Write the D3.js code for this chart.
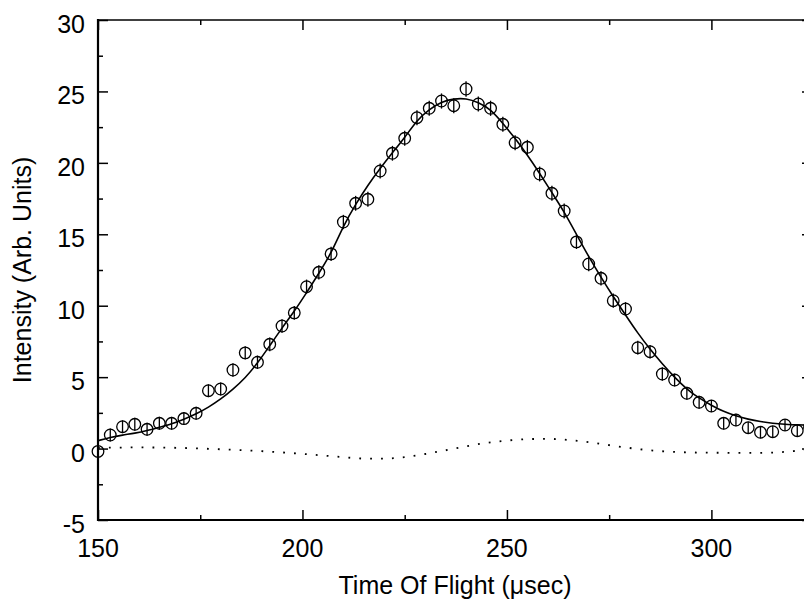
<!DOCTYPE html>
<html>
<head>
<meta charset="utf-8">
<script src="https://cdn.jsdelivr.net/npm/d3@7"></script>
<style>
    body { margin: 0; background: #fff; }
    svg { display: block; font-family: "Liberation Sans", Arial, Helvetica, sans-serif; }
</style>
</head>
<body>
<svg id="chart"></svg>
<script>
// measured points (time of flight in usec)
const times = [150, 153, 156, 159, 162, 165, 168, 171, 174, 177, 180, 183, 186, 189, 192, 195, 198, 201, 204, 207,
    210, 213, 216, 219, 222, 225, 228, 231, 234, 237, 240, 243, 246, 249, 252, 255, 258, 261, 264, 267,
    270, 273, 276, 279, 282, 285, 288, 291, 294, 297, 300, 303, 306, 309, 312, 315, 318, 321, 324];

const intensity = [-0.2, 0.95, 1.53, 1.7, 1.35, 1.77, 1.77, 2.1, 2.47, 4.05, 4.17, 5.5, 6.7, 6.04, 7.3, 8.58, 9.5, 11.33, 12.34, 13.63,
    15.86, 17.17, 17.45, 19.43, 20.67, 21.72, 23.16, 23.82, 24.33, 24.0, 25.17, 24.12, 23.82, 22.7, 21.41, 21.09, 19.22, 17.87, 16.63, 14.47,
    12.92, 11.92, 10.35, 9.77, 7.06, 6.78, 5.22, 4.8, 3.87, 3.24, 2.98, 1.77, 2.0, 1.46, 1.14, 1.18, 1.65, 1.25, 1.5];

const errors = [0, 0.45, 0.45, 0.45, 0.45, 0.45, 0.45, 0.45, 0.45, 0.45, 0.45, 0.47, 0.47, 0.47, 0.48, 0.48, 0.48, 0.5, 0.5, 0.5,
    0.5, 0.52, 0.52, 0.52, 0.52, 0.52, 0.53, 0.53, 0.53, 0.53, 0.55, 0.53, 0.53, 0.53, 0.52, 0.52, 0.52, 0.52, 0.52, 0.5,
    0.5, 0.5, 0.5, 0.48, 0.48, 0.47, 0.47, 0.45, 0.45, 0.45, 0.43, 0.43, 0.43, 0.42, 0.42, 0.42, 0.42, 0.42, 0.42];

// fitted curve
const fitTimes = times;
const fitValues = [0.55, 0.79, 0.95, 1.07, 1.25, 1.49, 1.72, 2.05, 2.42, 2.89, 3.45, 4.15, 4.94, 5.97, 7.2, 8.45, 9.6, 10.9, 12.27, 13.65,
    15.6, 17.1, 18.45, 19.62, 20.71, 21.76, 23.0, 23.75, 24.28, 24.49, 24.52, 24.24, 23.75, 22.77, 21.72, 20.55, 19.27, 17.91, 16.58, 15.0,
    13.43, 11.99, 10.63, 9.35, 8.07, 6.95, 5.92, 4.99, 4.15, 3.52, 3.03, 2.58, 2.28, 2.05, 1.88, 1.77, 1.7, 1.65, 1.64];

// residual (dotted)
const residTimes = [150, 160, 170, 180, 190, 200, 210, 215, 220, 225, 230, 235, 240, 245, 250, 255, 260, 265, 270, 275,
    280, 285, 290, 295, 300, 310, 315, 320, 325];
const residValues = [0.05, 0.08, 0.05, -0.05, -0.18, -0.37, -0.6, -0.7, -0.7, -0.6, -0.38, -0.12, 0.15, 0.4, 0.56, 0.66, 0.68, 0.6, 0.45, 0.24,
    0.04, -0.12, -0.22, -0.27, -0.29, -0.3, -0.28, -0.18, -0.05];

const xMajor = [150, 200, 250, 300];
const xMinor = [175, 225, 275, 325];
const yMajor = [-5, 0, 5, 10, 15, 20, 25, 30];
const yMinor = [-2.5, 2.5, 7.5, 12.5, 17.5, 22.5, 27.5];

const width = 804;
const height = 600;
const margin = { top: 20, right: -8, bottom: 80, left: 98 };
const fontSize = 25;

const svg = d3.select("#chart")
    .attr("width", width)
    .attr("height", height);

const x = d3.scaleLinear()
    .domain([150, 324.6])
    .range([margin.left, width - margin.right]);

const y = d3.scaleLinear()
    .domain([-5, 30])
    .range([height - margin.bottom, margin.top]);

const plotLeft = x.range()[0], plotRight = x.range()[1];
const plotTop = y.range()[1], plotBottom = y.range()[0];

// ticks pointing inward on all four sides
const addTicks = (axisFn, pos, values, size) => {
    svg.append("g")
        .attr("transform", pos)
        .call(axisFn.tickValues(values).tickSize(-size).tickFormat(""))
        .call(g => g.select(".domain").remove())
        .selectAll("line").attr("stroke", "#000").attr("stroke-width", 1.5);
};

addTicks(d3.axisBottom(x), `translate(0,${plotBottom})`, xMajor, 10);
addTicks(d3.axisBottom(x), `translate(0,${plotBottom})`, xMinor, 5);
addTicks(d3.axisTop(x), `translate(0,${plotTop})`, xMajor, 10);
addTicks(d3.axisTop(x), `translate(0,${plotTop})`, xMinor, 5);
addTicks(d3.axisLeft(y), `translate(${plotLeft},0)`, yMajor, 10);
addTicks(d3.axisLeft(y), `translate(${plotLeft},0)`, yMinor, 5);
addTicks(d3.axisRight(y), `translate(${plotRight},0)`, yMajor, 10);
addTicks(d3.axisRight(y), `translate(${plotRight},0)`, yMinor, 5);

// frame
svg.append("line")
    .attr("x1", plotLeft).attr("x2", plotRight)
    .attr("y1", plotTop).attr("y2", plotTop)
    .attr("stroke", "#000").attr("stroke-width", 1.5);
svg.append("line")
    .attr("x1", plotLeft).attr("x2", plotRight)
    .attr("y1", plotBottom).attr("y2", plotBottom)
    .attr("stroke", "#000").attr("stroke-width", 2);
svg.append("line")
    .attr("x1", plotLeft).attr("x2", plotLeft)
    .attr("y1", plotTop - 1).attr("y2", plotBottom + 1)
    .attr("stroke", "#000").attr("stroke-width", 2.2);

// tick labels
svg.append("g")
    .selectAll("text")
    .data(xMajor)
    .enter().append("text")
    .attr("x", d => x(d))
    .attr("y", plotBottom + 37)
    .attr("text-anchor", "middle")
    .attr("font-size", fontSize)
    .text(d => d);

svg.append("g")
    .selectAll("text")
    .data(yMajor)
    .enter().append("text")
    .attr("x", plotLeft - 13)
    .attr("y", d => y(d) + 13)
    .attr("text-anchor", "end")
    .attr("font-size", fontSize)
    .text(d => d);

// axis titles
svg.append("text")
    .attr("x", (plotLeft + plotRight) / 2)
    .attr("y", 594)
    .attr("text-anchor", "middle")
    .attr("font-size", fontSize)
    .text("Time Of Flight (\u03BCsec)");

svg.append("text")
    .attr("transform", `translate(31,${(plotTop + plotBottom) / 2}) rotate(-90)`)
    .attr("text-anchor", "middle")
    .attr("font-size", fontSize)
    .text("Intensity (Arb. Units)");

// residual dotted line
const resid = residTimes.map((t, i) => ({ t, v: residValues[i] }));
svg.append("path")
    .datum(resid)
    .attr("fill", "none")
    .attr("stroke", "#000")
    .attr("stroke-width", 1.8)
    .attr("stroke-dasharray", "1.8,9.1")
    .attr("d", d3.line().x(d => x(d.t)).y(d => y(d.v)).curve(d3.curveMonotoneX));

// fit curve
const fit = fitTimes.map((t, i) => ({ t, v: fitValues[i] }));
svg.append("path")
    .datum(fit)
    .attr("fill", "none")
    .attr("stroke", "#000")
    .attr("stroke-width", 1.6)
    .attr("d", d3.line().x(d => x(d.t)).y(d => y(d.v)).curve(d3.curveBasis));

// data points with error bars
const points = times.map((t, i) => ({ t, v: intensity[i], e: errors[i] }));
const pts = svg.append("g")
    .selectAll("g")
    .data(points)
    .enter().append("g");

pts.append("circle")
    .attr("cx", d => x(d.t))
    .attr("cy", d => y(d.v))
    .attr("r", 5.8)
    .attr("fill", "none")
    .attr("stroke", "#000")
    .attr("stroke-width", 1.3);

pts.filter(d => d.e > 0).append("line")
    .attr("x1", d => x(d.t)).attr("x2", d => x(d.t))
    .attr("y1", d => y(d.v - d.e)).attr("y2", d => y(d.v + d.e))
    .attr("stroke", "#000")
    .attr("stroke-width", 1.3);
</script>
</body>
</html>
